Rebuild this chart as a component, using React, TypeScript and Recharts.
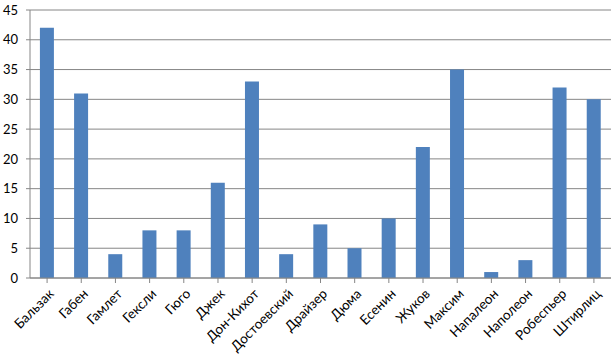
import React from "react";
import { BarChart, Bar, XAxis, YAxis, CartesianGrid } from "recharts";

const categories = [
  "Бальзак", "Габен", "Гамлет", "Гексли", "Гюго", "Джек", "Дон-Кихот", "Достоевский",
  "Драйзер", "Дюма", "Есенин", "Жуков", "Максим", "Напалеон", "Наполеон", "Робеспьер", "Штирлиц",
];
const values = [42, 31, 4, 8, 8, 16, 33, 4, 9, 5, 10, 22, 35, 1, 3, 32, 30];
const yTicks = [0, 5, 10, 15, 20, 25, 30, 35, 40, 45];

const data = categories.map((name, i) => ({ name, value: values[i] }));

const FONT = "Lato, 'Open Sans', sans-serif";

const XTick = (props: any) => {
  const { x, y, payload } = props;
  return (
    <g transform={`translate(${x + 2},${y + 4})`}>
      <text
        x={0}
        y={0}
        dy={8}
        textAnchor="end"
        transform="rotate(-45)"
        fontFamily={FONT}
        fontSize={13.5}
        fill="#000"
      >
        {payload.value}
      </text>
    </g>
  );
};

export default function App() {
  return (
    <div style={{ position: "absolute", left: 0, top: 0, background: "#fff" }}>
      <BarChart
        width={615}
        height={360}
        data={data}
        margin={{ top: 10, right: 4, bottom: 0, left: 0 }}
        barCategoryGap="29%"
      >
        <CartesianGrid vertical={false} stroke="#868686" strokeWidth={1} />
        <XAxis
          dataKey="name"
          interval={0}
          height={82}
          tick={<XTick />}
          tickLine={{ stroke: "#868686" }}
          axisLine={{ stroke: "#868686" }}
          tickSize={5}
        />
        <YAxis
          width={30}
          domain={[0, 45]}
          ticks={yTicks}
          interval={0}
          tickSize={4}
          tickMargin={8}
          tickLine={{ stroke: "#868686" }}
          axisLine={{ stroke: "#868686" }}
          tick={{ fill: "#000", fontSize: 13, fontFamily: FONT }}
        />
        <Bar dataKey="value" fill="#4F81BD" isAnimationActive={false} />
      </BarChart>
    </div>
  );
}
